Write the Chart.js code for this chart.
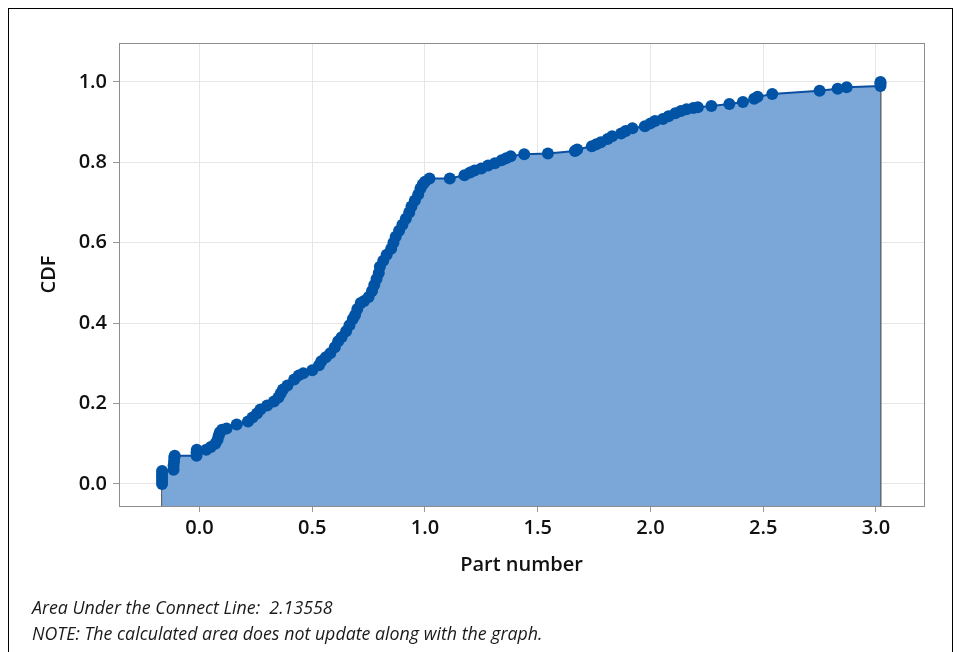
<!DOCTYPE html>
<html lang="en">
<head>
  <meta charset="UTF-8">
  <title>CDF - Part number</title>
  <script src="https://cdn.jsdelivr.net/npm/chart.js"></script>
<style>
  html, body {
    margin: 0;
    padding: 0;
    background: #ffffff;
  }
  .wrap {
    position: relative;
    width: 960px;
    height: 652px;
    overflow: hidden;
  }
  .frame {
    position: absolute;
    left: 8px;
    top: 8px;
    width: 943px;
    height: 700px;
    border: 1px solid #000;
  }
  canvas {
    position: absolute;
    left: 0;
    top: 0;
  }
  .note {
    position: absolute;
    left: 32px;
    font-family: "Open Sans", sans-serif;
    font-style: italic;
    font-size: 17.8px;
    line-height: 24px;
    color: #1a1a1a;
    white-space: pre;
  }
</style>
</head>
<body>
  <div class="wrap">
    <div class="frame"></div>
    <canvas id="cdfChart" width="960" height="652"></canvas>
    <div class="note" style="top: 595px;">Area Under the Connect Line:  2.13558</div>
    <div class="note" style="top: 621px;">NOTE: The calculated area does not update along with the graph.</div>
  </div>

  <script>
    // values (part number, cumulative fraction)
    const partNumber = [
      -0.166, -0.166, -0.166, -0.166, -0.166,
      -0.115, -0.115, -0.113, -0.112, -0.110,
      -0.013, -0.013, -0.012,
      0.03, 0.05, 0.07, 0.08, 0.085, 0.09, 0.10, 0.12, 0.165, 0.215, 0.235, 0.255,
      0.27, 0.30, 0.33, 0.35, 0.36, 0.37, 0.39, 0.42, 0.44, 0.46, 0.50,
      0.53, 0.54, 0.56, 0.58, 0.60, 0.615, 0.63, 0.65, 0.665, 0.68, 0.69, 0.70,
      0.715, 0.73, 0.75, 0.765, 0.775, 0.785, 0.795, 0.80, 0.815, 0.83, 0.85,
      0.86, 0.87, 0.885, 0.90, 0.915, 0.93, 0.94, 0.955, 0.97, 0.98, 0.99, 1.00, 1.02,
      1.11, 1.175, 1.20, 1.22, 1.25, 1.28, 1.31, 1.34, 1.36, 1.38, 1.44, 1.545,
      1.665, 1.675, 1.74, 1.76, 1.78, 1.81, 1.83, 1.87, 1.89, 1.92, 1.975,
      2.00, 2.02, 2.055, 2.08, 2.11, 2.135, 2.16, 2.19, 2.21, 2.27, 2.35, 2.41,
      2.46, 2.475, 2.54, 2.75, 2.83, 2.87, 3.02, 3.02, 3.02
    ];
    const cdf = [
      0.000, 0.008, 0.016, 0.024, 0.032,
      0.035, 0.045, 0.055, 0.065, 0.070,
      0.070, 0.078, 0.085,
      0.085, 0.092, 0.100, 0.110, 0.120, 0.128, 0.135, 0.138, 0.148, 0.155, 0.165, 0.175,
      0.185, 0.195, 0.205, 0.215, 0.225, 0.235, 0.245, 0.260, 0.270, 0.275, 0.283,
      0.295, 0.305, 0.315, 0.325, 0.340, 0.355, 0.365, 0.380, 0.395, 0.410, 0.420, 0.435,
      0.450, 0.455, 0.465, 0.480, 0.495, 0.510, 0.525, 0.540, 0.555, 0.570, 0.585,
      0.600, 0.615, 0.630, 0.645, 0.660, 0.675, 0.690, 0.705, 0.720, 0.735, 0.745, 0.752, 0.760,
      0.760, 0.768, 0.775, 0.780, 0.785, 0.792, 0.798, 0.805, 0.810, 0.815, 0.820, 0.822,
      0.828, 0.832, 0.840, 0.845, 0.850, 0.858, 0.865, 0.872, 0.878, 0.885, 0.890,
      0.897, 0.903, 0.908, 0.915, 0.922, 0.928, 0.932, 0.935, 0.937, 0.940, 0.945, 0.950,
      0.958, 0.963, 0.970, 0.978, 0.983, 0.987, 0.990, 0.997, 1.000
    ];
    const xTicks = [0.0, 0.5, 1.0, 1.5, 2.0, 2.5, 3.0];
    const yTicks = [0.0, 0.2, 0.4, 0.6, 0.8, 1.0];
    const xRange = [-0.357, 3.213];
    const yRange = [-0.055, 1.097];

    const points = partNumber.map((x, i) => ({ x: x, y: cdf[i] }));
    const last = partNumber.length - 1;
    // vertical closing edges of the shaded area
    const leftEdge = [{ x: partNumber[0], y: yRange[0] }, { x: partNumber[0], y: cdf[0] }];
    const rightEdge = [{ x: partNumber[last], y: yRange[0] }, { x: partNumber[last], y: cdf[last] }];

    const tickFont = { family: "'Open Sans', sans-serif", size: 20, weight: '600' };
    const titleFont = { family: "'Open Sans', sans-serif", size: 20, weight: '600' };

    // gray box round the plot area
    const plotFrame = {
      id: 'plotFrame',
      afterDraw(chart) {
        const a = chart.chartArea;
        const ctx = chart.ctx;
        ctx.save();
        ctx.strokeStyle = '#8c8c8c';
        ctx.lineWidth = 1;
        ctx.strokeRect(Math.round(a.left) + 0.5, Math.round(a.top) + 0.5,
          Math.round(a.right - a.left), Math.round(a.bottom - a.top));
        ctx.restore();
      }
    };

    new Chart(document.getElementById('cdfChart').getContext('2d'), {
      type: 'scatter',
      data: {
        datasets: [
          {
            data: leftEdge,
            showLine: true,
            borderColor: '#555a60',
            borderWidth: 2,
            pointRadius: 0,
            fill: false,
            order: 2
          },
          {
            data: rightEdge,
            showLine: true,
            borderColor: '#555a60',
            borderWidth: 2,
            pointRadius: 0,
            fill: false,
            order: 2
          },
          {
            data: points,
            showLine: true,
            borderColor: '#0b4fa0',
            borderWidth: 2,
            backgroundColor: '#7ba7d8',
            fill: 'start',
            tension: 0,
            pointRadius: 6,
            pointBackgroundColor: '#0053a5',
            pointBorderColor: '#0053a5',
            pointBorderWidth: 0,
            order: 1
          }
        ]
      },
      options: {
        responsive: false,
        animation: false,
        layout: { padding: { left: 0, top: 43, right: 36, bottom: 75 } },
        plugins: {
          legend: { display: false },
          tooltip: { enabled: false }
        },
        scales: {
          x: {
            type: 'linear',
            min: xRange[0],
            max: xRange[1],
            afterBuildTicks: s => { s.ticks = xTicks.map(v => ({ value: v })); },
            afterFit: s => { s.height = 71; },
            grid: { color: '#e6e6e6', tickColor: '#9a9a9a', tickLength: 6, drawTicks: true },
            border: { display: false },
            ticks: { font: tickFont, color: '#111', padding: 4, callback: v => v.toFixed(1) },
            title: { display: true, text: 'Part number', font: titleFont, color: '#111', padding: { top: 0, bottom: 0 } }
          },
          y: {
            type: 'linear',
            min: yRange[0],
            max: yRange[1],
            afterBuildTicks: s => { s.ticks = yTicks.map(v => ({ value: v })); },
            afterFit: s => { s.width = 119; },
            grid: { color: '#e6e6e6', tickColor: '#9a9a9a', tickLength: 6, drawTicks: true },
            border: { display: false },
            ticks: { font: tickFont, color: '#111', padding: 6, callback: v => v.toFixed(1) },
            title: { display: true, text: 'CDF', font: titleFont, color: '#111', padding: { top: 37, bottom: 0 } }
          }
        }
      },
      plugins: [plotFrame]
    });
  </script>
</body>
</html>
